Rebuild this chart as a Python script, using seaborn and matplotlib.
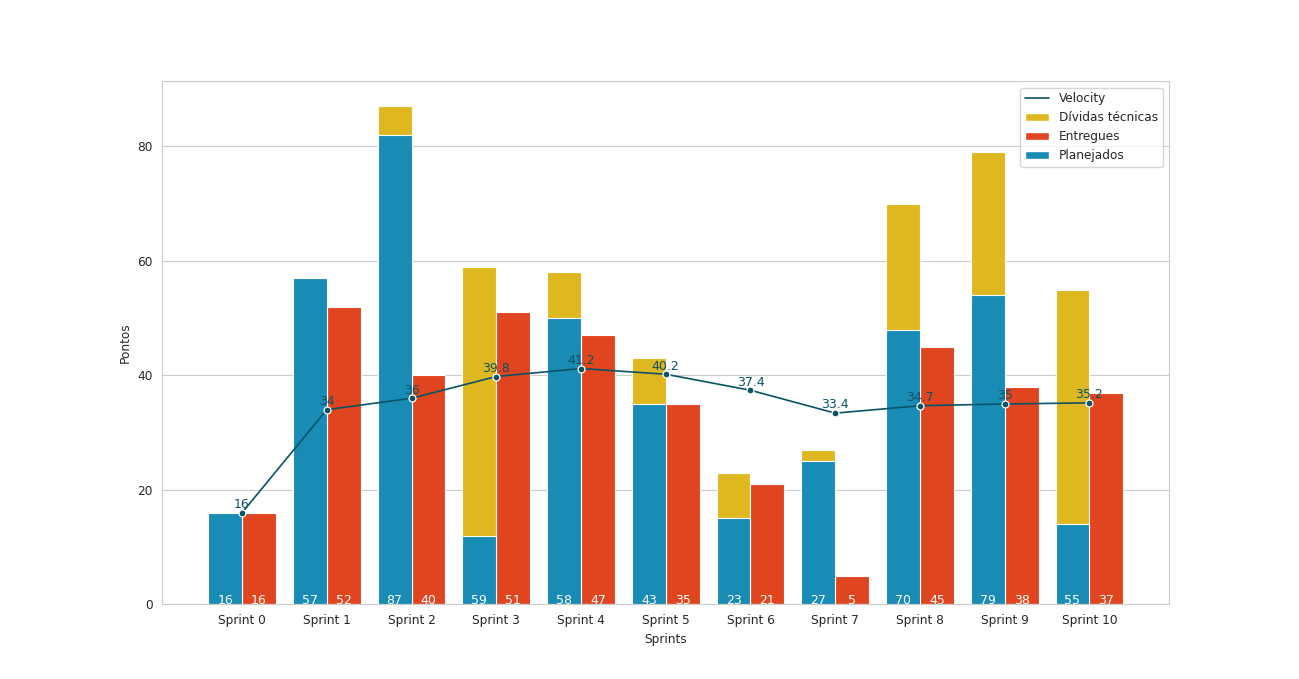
import matplotlib
matplotlib.use("Agg")
import matplotlib.pyplot as plt
import seaborn as sns
import pandas as pd
from matplotlib.patches import Patch
from matplotlib.lines import Line2D

# Dados
sprints = [f"Sprint {i}" for i in range(11)]
planejados = [16, 57, 82, 12, 50, 35, 15, 25, 48, 54, 14]
total_planejado = [16, 57, 87, 59, 58, 43, 23, 27, 70, 79, 55]  # planejados + dívidas
entregues = [16, 52, 40, 51, 47, 35, 21, 5, 45, 38, 37]
velocity = [16, 34, 36, 39.8, 41.2, 40.2, 37.4, 33.4, 34.7, 35, 35.2]

AZUL = "#188cb4"
VERMELHO = "#e04520"
AMARELO = "#dfb820"
LINHA = "#0a5366"
FS = 8.7

sns.set_style("whitegrid")
plt.rcParams["font.family"] = ["DejaVu Sans"]
plt.rcParams["font.size"] = FS

fig, ax = plt.subplots(figsize=(12.99, 6.79), dpi=100)

ordem = ["Planejados", "Entregues"]

# camada de trás: total planejado (amarelo = dívidas) e entregues
df_total = pd.DataFrame({
    "Sprint": sprints * 2,
    "Tipo": ["Planejados"] * 11 + ["Entregues"] * 11,
    "Pontos": total_planejado + entregues,
})
sns.barplot(data=df_total, x="Sprint", y="Pontos", hue="Tipo", hue_order=ordem,
            palette={"Planejados": AMARELO, "Entregues": VERMELHO},
            order=sprints, width=0.8, saturation=1, edgecolor="white",
            linewidth=0.8, legend=False, ax=ax)

# camada da frente: planejados (azul); entregues com altura zero só para manter o dodge
df_plan = pd.DataFrame({
    "Sprint": sprints * 2,
    "Tipo": ["Planejados"] * 11 + ["Entregues"] * 11,
    "Pontos": planejados + [0] * 11,
})
sns.barplot(data=df_plan, x="Sprint", y="Pontos", hue="Tipo", hue_order=ordem,
            palette={"Planejados": AZUL, "Entregues": VERMELHO},
            order=sprints, width=0.8, saturation=1, edgecolor="white",
            linewidth=0.8, legend=False, ax=ax)

# linha de velocity
df_vel = pd.DataFrame({"x": range(11), "Velocity": velocity})
sns.lineplot(data=df_vel, x="x", y="Velocity", color=LINHA, marker="o",
             markersize=5, markeredgecolor="white", markeredgewidth=0.9,
             linewidth=1.2, ax=ax, zorder=5)

for i, v in enumerate(velocity):
    ax.text(i, v + 0.3, f"{v:g}", ha="center", va="bottom", color=LINHA,
            fontsize=9, zorder=4)

# rótulos brancos na base das barras
for i in range(11):
    ax.text(i - 0.2, 0, str(total_planejado[i]), ha="center", va="baseline",
            color="white", fontsize=9, zorder=6)
    ax.text(i + 0.2, 0, str(entregues[i]), ha="center", va="baseline",
            color="white", fontsize=9, zorder=6)

ax.set_xlim(-0.94, 10.94)
ax.set_ylim(0, max(total_planejado) * 1.05)
ax.set_yticks([0, 20, 40, 60, 80])
ax.set_xlabel("Sprints", fontsize=FS)
ax.set_ylabel("Pontos", fontsize=FS)
ax.tick_params(labelsize=FS)
ax.grid(axis="x", visible=False)

handles = [
    Line2D([0], [0], color=LINHA, linewidth=1.2),
    Patch(facecolor=AMARELO),
    Patch(facecolor=VERMELHO),
    Patch(facecolor=AZUL),
]
labels = ["Velocity", "Dívidas técnicas", "Entregues", "Planejados"]
ax.legend(handles, labels, loc="upper right", fontsize=FS)

fig.subplots_adjust(left=0.125, right=0.9, top=0.88, bottom=0.11)
fig.savefig("out.png", dpi=100)
